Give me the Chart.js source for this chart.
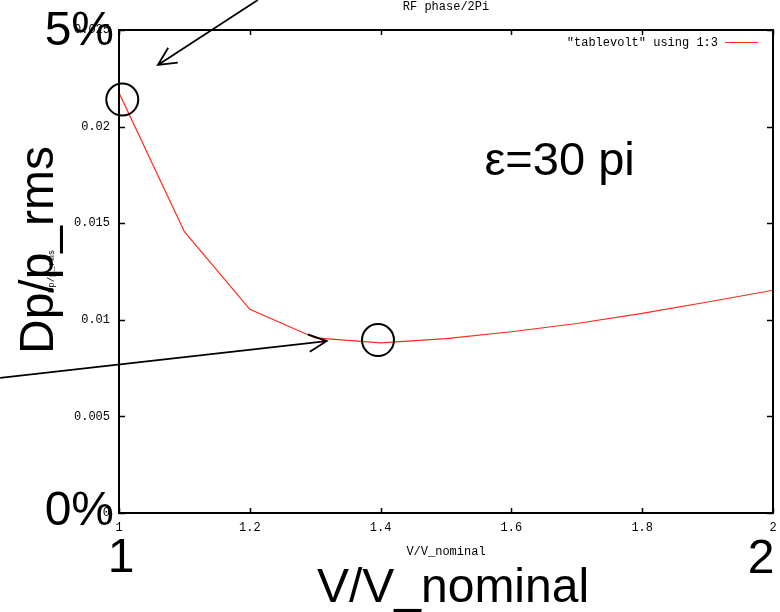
<!DOCTYPE html>
<html><head><meta charset="utf-8">
<script src="https://cdn.jsdelivr.net/npm/chart.js@4/dist/chart.umd.min.js"></script>
<style>html,body{margin:0;padding:0;background:#fff}canvas{display:block}</style>
</head><body>
<canvas id="c" width="780" height="612"></canvas>
<script>
// ---- data ----
const voltageRatio = [1.0, 1.1, 1.2, 1.3, 1.4, 1.5, 1.6, 1.7, 1.8, 1.9, 2.0];
const dpRms = [0.02175, 0.01456, 0.01054, 0.00906, 0.00881, 0.00903, 0.00938, 0.00981, 0.01033, 0.01092, 0.01153];
const xTickLabels = ['1', '1.2', '1.4', '1.6', '1.8', '2'];
const yTickLabels = ['0', '0.005', '0.01', '0.015', '0.02', '0.025'];
const seriesLabel = '"tablevolt" using 1:3';
const chartTitle = 'RF phase/2Pi';
const xTitle = 'V/V_nominal';
const yTitle = 'Dp/p_rms';
// annotation anchors (data space)
const circleCenters = [[1.005, 0.0214], [1.396, 0.00895]];
const arrows = [
  {from: [1.2122, 0.02655], to: [1.0595, 0.02319]},
  {from: [0.8183, 0.00699], to: [1.3176, 0.00890]}
];
const noteText = 'ε=30 pi';
const noteAnchor = [1.5587, 0.0175];
const bigTexts = {top: '5%', bottom: '0%', xMin: '1', xMax: '2', xName: 'V/V_nominal', yName: 'Dp/p_rms'};

const MONO = "'Liberation Mono', 'DejaVu Sans Mono', monospace";
const SANS = "'Liberation Sans', Arial, sans-serif";

const overlay = {
  id: 'overlay',
  afterDraw(chart) {
    const {ctx, chartArea: a, scales: {x, y}} = chart;
    ctx.save();
    // frame
    ctx.strokeStyle = '#000';
    ctx.lineWidth = 2;
    ctx.strokeRect(a.left, a.top, a.right - a.left, a.bottom - a.top);
    // inward ticks (mirrored)
    ctx.lineWidth = 1.5;
    ctx.beginPath();
    x.ticks.forEach(t => {
      const px = Math.round(x.getPixelForValue(t.value)) + 0.5;
      ctx.moveTo(px, a.bottom); ctx.lineTo(px, a.bottom - 5);
      ctx.moveTo(px, a.top); ctx.lineTo(px, a.top + 5);
    });
    y.ticks.forEach(t => {
      const py = Math.round(y.getPixelForValue(t.value)) + 0.5;
      ctx.moveTo(a.left, py); ctx.lineTo(a.left + 6, py);
      ctx.moveTo(a.right, py); ctx.lineTo(a.right - 6, py);
    });
    ctx.stroke();
    // legend
    const ds = chart.data.datasets[0];
    ctx.font = '12px ' + MONO;
    ctx.fillStyle = '#000';
    ctx.textAlign = 'right';
    ctx.textBaseline = 'middle';
    ctx.fillText(ds.label, a.right - 55, a.top + 13);
    ctx.strokeStyle = ds.borderColor;
    ctx.lineWidth = 1;
    ctx.beginPath();
    ctx.moveTo(a.right - 48, a.top + 12.5); ctx.lineTo(a.right - 15, a.top + 12.5);
    ctx.stroke();

    // circles
    ctx.strokeStyle = '#000';
    ctx.lineWidth = 2;
    circleCenters.forEach(([cx, cy]) => {
      ctx.beginPath();
      ctx.arc(x.getPixelForValue(cx), y.getPixelForValue(cy), 16, 0, Math.PI * 2);
      ctx.stroke();
    });
    // arrows
    ctx.lineWidth = 1.8;
    arrows.forEach(ar => {
      const x0 = x.getPixelForValue(ar.from[0]), y0 = y.getPixelForValue(ar.from[1]);
      const x1 = x.getPixelForValue(ar.to[0]), y1 = y.getPixelForValue(ar.to[1]);
      const ang = Math.atan2(y0 - y1, x0 - x1);
      const hl = 20, ha = 26 * Math.PI / 180;
      ctx.beginPath();
      ctx.moveTo(x0, y0); ctx.lineTo(x1, y1);
      ctx.moveTo(x1 + hl * Math.cos(ang + ha), y1 + hl * Math.sin(ang + ha));
      ctx.lineTo(x1, y1);
      ctx.lineTo(x1 + hl * Math.cos(ang - ha), y1 + hl * Math.sin(ang - ha));
      ctx.stroke();
    });

    // big texts
    ctx.fillStyle = '#000';
    ctx.font = '48px ' + SANS;
    ctx.textBaseline = 'alphabetic';
    ctx.textAlign = 'right';
    ctx.fillText(bigTexts.top, a.left - 5, y.getPixelForValue(0.025) + 15);
    ctx.fillText(bigTexts.bottom, a.left - 5, y.getPixelForValue(0) + 12);
    ctx.textAlign = 'center';
    ctx.fillText(bigTexts.xMin, x.getPixelForValue(1) + 2, a.bottom + 59);
    ctx.fillText(bigTexts.xMax, x.getPixelForValue(2) - 12, a.bottom + 60);
    ctx.fillText(bigTexts.xName, 453, a.bottom + 89);
    ctx.save();
    ctx.translate(53, 250);
    ctx.rotate(-Math.PI / 2);
    ctx.fillText(bigTexts.yName, 0, 0);
    ctx.restore();
    ctx.font = '47px ' + SANS;
    ctx.textAlign = 'left';
    ctx.fillText(noteText, x.getPixelForValue(noteAnchor[0]), y.getPixelForValue(noteAnchor[1]));
    ctx.restore();
  }
};

new Chart(document.getElementById('c'), {
  type: 'line',
  data: {
    labels: voltageRatio,
    datasets: [{
      label: seriesLabel,
      data: voltageRatio.map((v, i) => ({x: v, y: dpRms[i]})),
      borderColor: '#ff2a1a',
      borderWidth: 1.2,
      pointRadius: 0,
      tension: 0,
      fill: false
    }]
  },
  options: {
    responsive: false,
    animation: false,
    layout: {padding: {left: 0, right: 7, top: 0, bottom: 0}},
    plugins: {
      legend: {display: false},
      tooltip: {enabled: false},
      title: {
        display: true, text: chartTitle, color: '#000', fullSize: false,
        font: {family: MONO, size: 12, weight: 'normal', lineHeight: 1.2},
        padding: {top: 0, bottom: 15.6}
      }
    },
    scales: {
      x: {
        type: 'linear', min: 1, max: 2,
        grid: {display: false, drawTicks: false}, border: {display: false},
        ticks: {stepSize: 0.2, color: '#000', padding: 8, maxRotation: 0, autoSkip: false,
          font: {family: MONO, size: 12}, callback: (v, i) => xTickLabels[i]},
        title: {display: true, text: xTitle, color: '#000', font: {family: MONO, size: 12},
          padding: {top: 0, bottom: 52.8}},
        afterFit(s) { s.height = 99; s.paddingRight = 0; s.paddingLeft = 0; }
      },
      y: {
        type: 'linear', min: 0, max: 0.025,
        grid: {display: false, drawTicks: false}, border: {display: false},
        ticks: {stepSize: 0.005, color: '#000', padding: 9,
          font: {family: MONO, size: 12}, callback: (v, i) => yTickLabels[i]},
        title: {display: true, text: yTitle, color: '#000', font: {family: MONO, size: 9},
          padding: {top: 46.6, bottom: 0}},
        afterFit(s) { s.width = 119; s.paddingTop = 0; s.paddingBottom = 0; }
      }
    }
  },
  plugins: [overlay]
});
</script>
</body></html>
